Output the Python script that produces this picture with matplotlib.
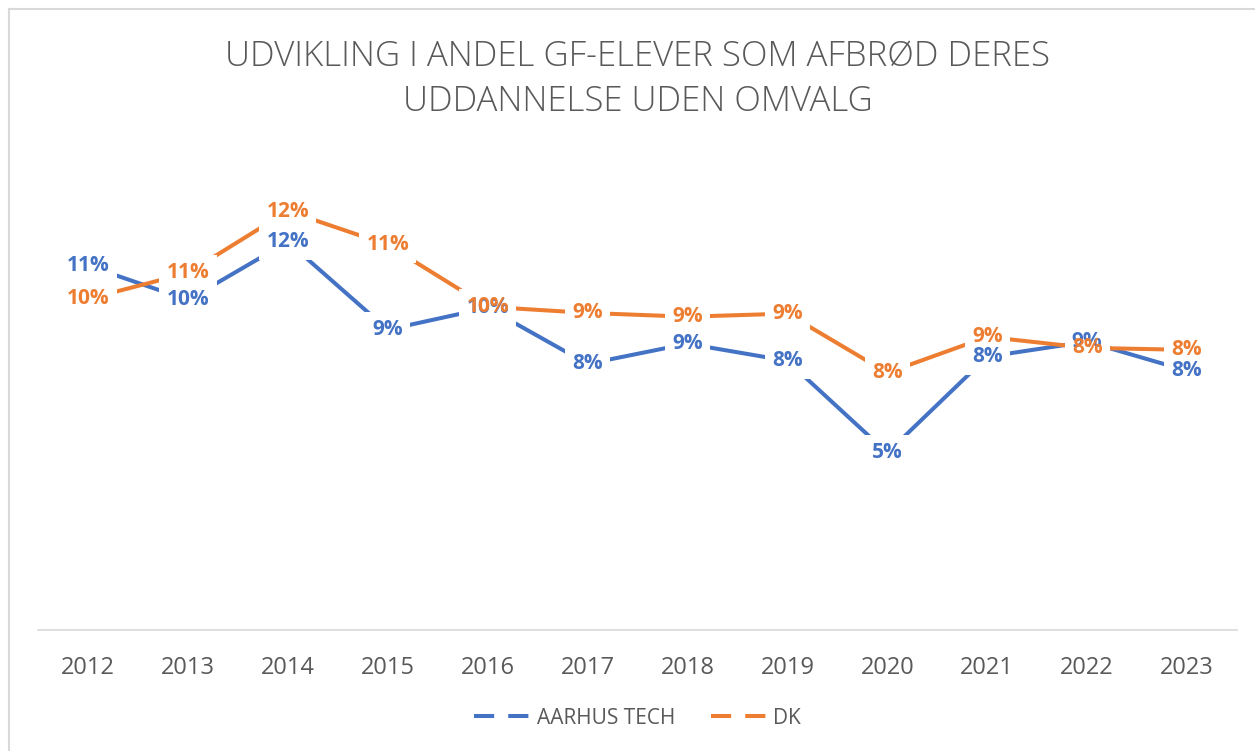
import matplotlib

matplotlib.use("Agg")

import matplotlib.pyplot as plt
from matplotlib.lines import Line2D

years = ["2012", "2013", "2014", "2015", "2016", "2017",
         "2018", "2019", "2020", "2021", "2022", "2023"]
aarhus_tech = [0.1085, 0.0985, 0.1155, 0.0898, 0.0962, 0.0798,
               0.0857, 0.0807, 0.0538, 0.0819, 0.0863, 0.0778]
dk = [0.0988, 0.1064, 0.1245, 0.1146, 0.0965, 0.0947,
      0.0936, 0.0945, 0.0772, 0.0877, 0.0845, 0.0839]
series_names = ["AARHUS TECH", "DK"]
title = "UDVIKLING I ANDEL GF-ELEVER SOM AFBRØD DERES\nUDDANNELSE UDEN OMVALG"

BLUE = "#4472C4"
ORANGE = "#ED7D31"
TEXT = "#595959"
GRID = "#D9D9D9"
FONT = "Open Sans"

plt.rcParams["font.family"] = [FONT, "DejaVu Sans"]

fig = plt.figure(figsize=(12.55, 7.51), dpi=100)
ax = fig.add_axes([38 / 1255, 121 / 751, 1199 / 1255, 472 / 751])

x = list(range(len(years)))
for values, color in [(aarhus_tech, BLUE), (dk, ORANGE)]:
    ax.plot(x, values, color=color, linewidth=2.9, solid_capstyle="butt", zorder=2)

# white boxes under every label first, so lines break around them
for values in [aarhus_tech, dk]:
    for xi, v in zip(x, values):
        ax.text(xi, v, f"{v * 100:.0f}%", ha="center", va="center",
                fontsize=15, fontweight="bold", color="none", zorder=3,
                bbox=dict(boxstyle="square,pad=0.35", fc="white", ec="none"))
for values, color in [(aarhus_tech, BLUE), (dk, ORANGE)]:
    for xi, v in zip(x, values):
        ax.text(xi, v, f"{v * 100:.0f}%", ha="center", va="center",
                fontsize=15, fontweight="bold", color=color, zorder=4)

ax.set_xlim(-0.5, len(years) - 0.5)
ax.set_ylim(0.002, 0.14)
ax.set_xticks(x)
ax.set_xticklabels(years, fontsize=17, color=TEXT)
ax.set_yticks([])
ax.tick_params(axis="x", length=0, pad=19)
for side in ["top", "right", "left"]:
    ax.spines[side].set_visible(False)
ax.spines["bottom"].set_color(GRID)
ax.spines["bottom"].set_linewidth(1.2)

fig.text(0.508, 1 - 79 / 751, title, ha="center", va="center",
         fontsize=25, color=TEXT, linespacing=1.4, fontweight="light")

handles = [Line2D([0], [0], color=c, linewidth=2.9, linestyle=(0, (5, 3.5)))
           for c in [BLUE, ORANGE]]
fig.legend(handles, series_names, loc="center", bbox_to_anchor=(0.508, 1 - 718 / 751),
           ncol=2, frameon=False, fontsize=15, labelcolor=TEXT,
           handlelength=2.7, columnspacing=1.7, handletextpad=0.3)

# chart border (top and left edges visible in the crop)
fig.add_artist(Line2D([9 / 1255, 1], [1 - 9 / 751, 1 - 9 / 751], color=GRID, linewidth=1.5))
fig.add_artist(Line2D([9 / 1255, 9 / 1255], [0, 1 - 9 / 751], color=GRID, linewidth=1.5))

fig.savefig("out.png", dpi=100)
plt.close(fig)
